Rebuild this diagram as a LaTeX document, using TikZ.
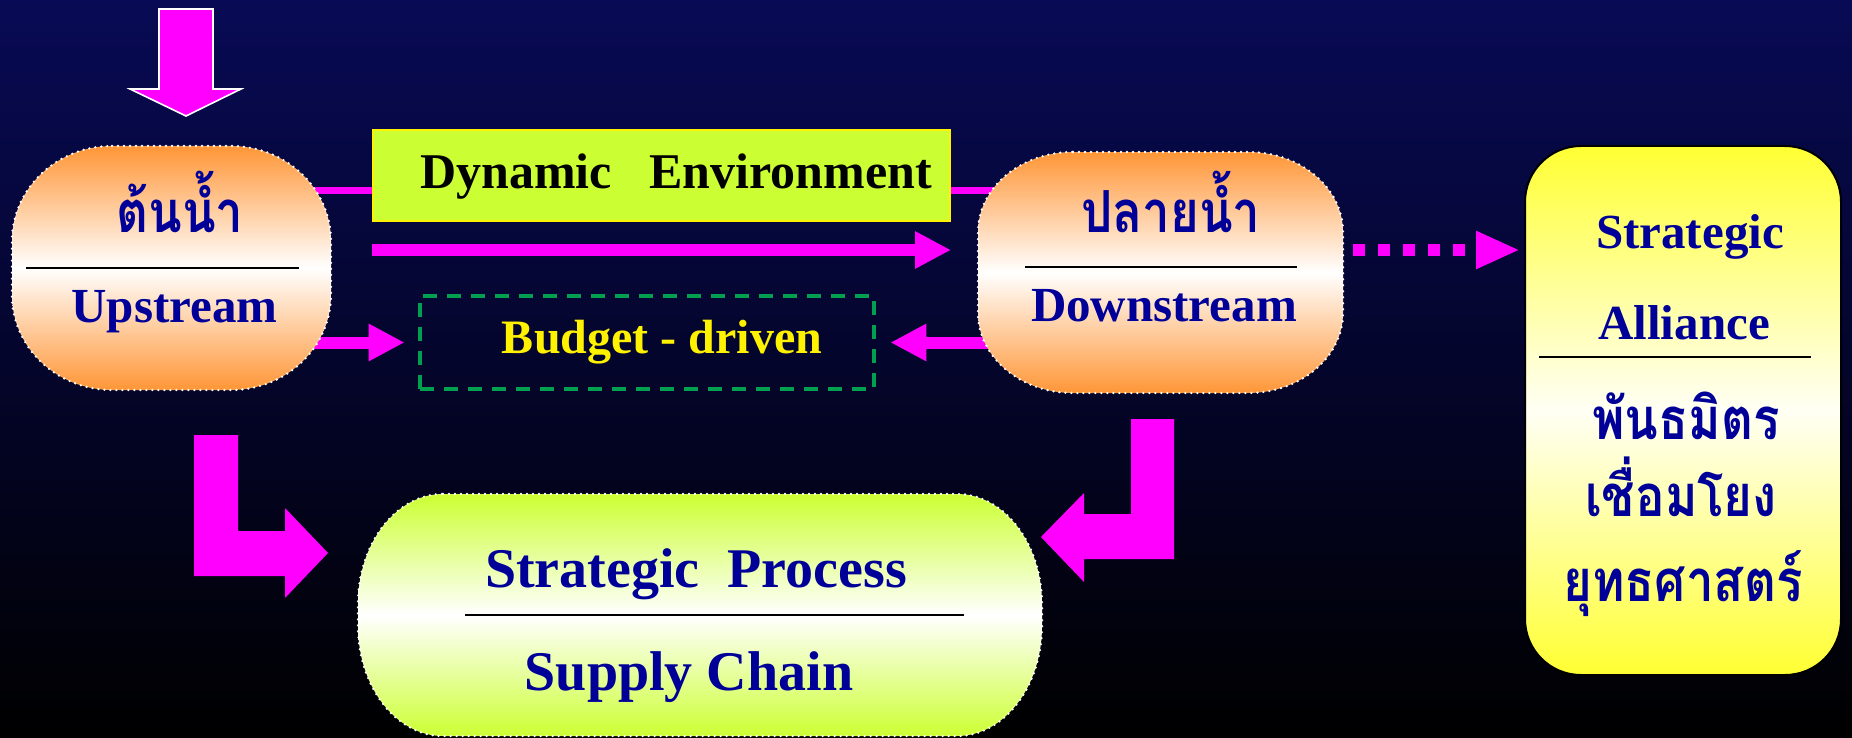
\documentclass[tikz,border=0pt]{standalone}
\usepackage{fontspec}
\setmainfont{Liberation Serif}
\newfontfamily\thai[Script=Thai,FakeStretch=0.85]{Loma}
\usetikzlibrary{arrows.meta,fit}

\definecolor{bgtop}{RGB}{8,10,85}
\definecolor{bgmid}{RGB}{3,4,32}
\definecolor{mag}{RGB}{255,0,255}
\definecolor{navy}{RGB}{0,0,153}
\definecolor{orng}{RGB}{255,150,55}
\definecolor{lime}{RGB}{204,255,51}
\definecolor{yell}{RGB}{255,255,51}
\definecolor{dgreen}{RGB}{0,160,80}

% #1 name, #2 x1, #3 y1, #4 x2, #5 y2, #6 rx, #7 ry, #8 path style
\newcommand\blob[8]{%
  \path[#8] (#2+#6,-#3) -- (#4-#6,-#3)
    arc[start angle=90,end angle=0,x radius=#6,y radius=#7] -- (#4,-#5+#7)
    arc[start angle=0,end angle=-90,x radius=#6,y radius=#7] -- (#2+#6,-#5)
    arc[start angle=-90,end angle=-180,x radius=#6,y radius=#7] -- (#2,-#3-#7)
    arc[start angle=180,end angle=90,x radius=#6,y radius=#7] -- cycle;
  \node[fit={(#2,-#3) (#4,-#5)},inner sep=0pt] (#1) {};}

\tikzset{
  dotborder/.style={draw=white, line width=1.3pt, dash pattern=on 0pt off 3pt, line cap=round},
  orangeblob/.style={top color=orng, bottom color=orng, middle color=white, dotborder},
  limeblob/.style={top color=lime, bottom color=lime, middle color=white, dotborder},
  magline/.style={draw=mag, line width=3.5pt},
  magarrow/.style={draw=mag, line width=6pt, -{Triangle[length=18pt,width=17.5pt]}},
  dotarrow/.style={draw=mag, line width=6pt, dash pattern=on 6pt off 6.5pt, -{Triangle[length=22pt,width=17.5pt]}},
  blockarrow/.style={fill=mag},
  divline/.style={draw=black, line width=1.2pt},
  lat/.style={inner sep=0pt, anchor=base, text=navy, font=\bfseries\fontsize{24.5pt}{28pt}\selectfont},
  latbig/.style={lat, font=\bfseries\fontsize{28pt}{32pt}\selectfont},
  thaitxt/.style={inner sep=0pt, anchor=base, text=navy, font=\thai\bfseries\fontsize{29pt}{33pt}\selectfont},
}

\begin{document}
\begin{tikzpicture}[x=0.5pt,y=0.5pt]
\useasboundingbox (0,0) rectangle (1852,-738);
\shade[top color=bgtop, middle color=bgmid, bottom color=black] (0,0) rectangle (1852,-738);

% named placeholders for the level of the connectors
\coordinate (ty) at (0,-190);
\coordinate (ly) at (0,-250);

% nodes used for connectors (placed first so their names exist)
\node[fit={(373,-130) (950,-221)}, inner sep=0pt] (dynpos) {};
\node[fit={(420,-296) (874,-389)}, inner sep=0pt] (budpos) {};
\node[fit={(12,-146) (331,-390)}, inner sep=0pt] (uppos) {};
\node[fit={(978,-152) (1343,-393)}, inner sep=0pt] (dnpos) {};

% connectors that pass behind the nodes
\draw[magline] (uppos.center |- ty) -- (dnpos.center |- ty);
\draw[magarrow] (uppos.center |- budpos.center) -- ([xshift=-7.5pt]budpos.west);
\draw[magarrow] (dnpos.center |- budpos.center) -- ([xshift=8pt]budpos.east);

% upstream / downstream nodes
\blob{up}{12}{146}{331}{390}{100}{95}{orangeblob}
\blob{dn}{978}{152}{1343}{393}{95}{80}{orangeblob}
\node[thaitxt] (upth) at (180,-232) {ต้นน้ำ};
\draw[divline] (26,-268) -- (299,-268);
\node[lat] (upen) at (174.5,-322) {Upstream};
\node[thaitxt] (dnth) at (1171,-232) {ปลายน้ำ};
\draw[divline] (1025,-267) -- (1297,-267);
\node[lat] (dnen) at (1164,-321) {Downstream};

% dynamic environment box
\node[fit={(373,-130) (950,-221)}, inner sep=0pt, fill=lime, draw=yellow, line width=1pt] (dyn) {};
\node[inner sep=0pt, anchor=base, text=black, font=\bfseries\fontsize{25pt}{29pt}\selectfont] (dyntxt) at (676,-188) {Dynamic\ \ \ Environment};

% long arrow upstream -> downstream
\draw[magarrow] (dyn.west |- ly) -- (dyn.east |- ly);

% budget-driven box
\node[fit={(420,-296) (874,-389)}, inner sep=0pt, draw=dgreen, line width=2pt, dash pattern=on 7pt off 5pt] (bud) {};
\node[inner sep=0pt, anchor=base, text=yellow, font=\bfseries\fontsize{24pt}{28pt}\selectfont] (budtxt) at (662,-353) {Budget - driven};

% strategic alliance box
\node[fit={(1525,-146) (1841,-675)}, inner sep=0pt, rounded corners=28pt, draw=black, line width=1pt,
      top color=yell, bottom color=yell, middle color=yellow!4] (al) {};
\node[lat] (al1) at (1690,-248) {Strategic};
\node[lat] (al2) at (1684,-339) {Alliance};
\draw[divline] (1539,-357) -- (1811,-357);
\node[thaitxt] (al3) at (1686,-439) {พันธมิตร};
\node[thaitxt] (al4) at (1681,-516) {เชื่อมโยง};
\node[thaitxt] (al5) at (1683,-601) {ยุทธศาสตร์};

% dotted arrow downstream -> alliance
\draw[dotarrow] ([xshift=5pt]dn.east |- ly) -- ([xshift=-2pt]al.west |- ly);

% strategic process node
\blob{sp}{358}{494}{1042}{736}{85}{110}{limeblob}
\node[latbig] (sp1) at (696,-587) {Strategic\ \ Process};
\draw[divline] (465,-615) -- (964,-615);
\node[latbig] (sp2) at (689,-690) {Supply Chain};

% block arrows
\draw[draw=white, line width=0.8pt, fill=mag] (159,-9) -- (213,-9) -- (213,-89) -- (241,-89) -- (186,-116) -- (130,-89) -- (159,-89) -- cycle;
\fill[blockarrow] (194,-435) -- (238,-435) -- (238,-531) -- (285,-531) -- (285,-508) -- (328,-553) -- (285,-598) -- (285,-576) -- (194,-576) -- cycle;
\fill[blockarrow] (1131,-419) -- (1174,-419) -- (1174,-559) -- (1084,-559) -- (1084,-582) -- (1041,-537) -- (1084,-493) -- (1084,-514) -- (1131,-514) -- cycle;
\end{tikzpicture}
\end{document}
